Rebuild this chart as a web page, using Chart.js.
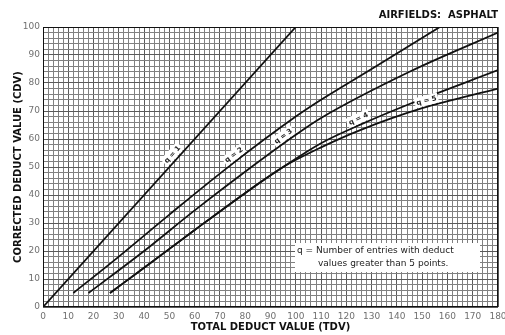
<!DOCTYPE html>
<html>
<head>
<meta charset="utf-8">
<script src="https://cdn.jsdelivr.net/npm/chart.js@4.4.1/dist/chart.umd.min.js"></script>
<style>
  html, body { margin: 0; padding: 0; background: #fff; }
</style>
</head>
<body>
<canvas id="cdv" width="505" height="335"></canvas>
<script>
// Curvas CDV, valores (TDV -> CDV)
const q1X = [0, 100];
const q1Y = [0, 100];
const q2X = [12, 30, 50, 74, 100, 110, 130, 157];
const q2Y = [5, 18, 33, 50.5, 68, 74, 85, 100];
const q3X = [18, 40, 60, 81, 100, 110, 145, 180];
const q3Y = [5, 20, 34.5, 49, 61.5, 67.5, 84, 98];
const q4X = [26.5, 40, 60, 82, 95, 110, 126, 145, 180];
const q4Y = [5, 14, 27.5, 42, 50, 58.5, 65.3, 72.5, 84.6];
const q5X = [26.5, 40, 60, 82, 95, 110, 125, 150, 180];
const q5Y = [5, 14, 27.5, 42, 50, 57, 63, 71, 78];

// Etiquetas de las curvas (posicion x en unidades de datos)
const curveNames = ['q = 1', 'q = 2', 'q = 3', 'q = 4', 'q = 5'];
const labelX = [53, 77, 96.5, 125.8, 152.3];

// Marcas de los ejes
const xTicks = [0, 10, 20, 30, 40, 50, 60, 70, 80, 90, 100, 110, 120, 130, 140, 150, 160, 170, 180];
const yTicks = [0, 10, 20, 30, 40, 50, 60, 70, 80, 90, 100];

const notaLineas = ['q = Number of entries with deduct', 'values greater than 5 points.'];

function puntos(xs, ys) {
    return xs.map((v, i) => ({ x: v, y: ys[i] }));
}

function serie(xs, ys) {
    return {
        data: puntos(xs, ys),
        borderColor: '#111',
        borderWidth: 1.8,
        pointRadius: 0,
        cubicInterpolationMode: 'monotone',
        fill: false
    };
}

// Segmento de la curva que contiene xv
function segmento(data, xv) {
    let i = 0;
    while (i < data.length - 2 && data[i + 1].x < xv) i++;
    return [data[i], data[i + 1]];
}

const gridColor = ctx => (ctx.tick && ctx.tick.value % 10 === 0) ? '#5a5a5a' : '#808080';

const decoracion = {
    id: 'decoracion',
    afterDraw(chart) {
        const { ctx, chartArea: area, scales: { x, y } } = chart;
        ctx.save();

        // marco del area
        ctx.strokeStyle = '#111';
        ctx.lineWidth = 1;
        ctx.strokeRect(Math.round(area.left) + 0.5, Math.round(area.top) + 0.5,
            Math.round(area.right - area.left) - 1, Math.round(area.bottom - area.top) - 1);

        // etiquetas q = n, encima de cada curva
        curveNames.forEach((txt, i) => {
            const [a, b] = segmento(chart.data.datasets[i].data, labelX[i]);
            const ax = x.getPixelForValue(a.x), ay = y.getPixelForValue(a.y);
            const bx = x.getPixelForValue(b.x), by = y.getPixelForValue(b.y);
            const ang = Math.atan2(by - ay, bx - ax);
            const px = x.getPixelForValue(labelX[i]);
            const py = ay + (by - ay) * (px - ax) / (bx - ax);
            ctx.save();
            ctx.translate(px, py);
            ctx.rotate(ang);
            ctx.translate(0, -6.5);
            ctx.fillStyle = '#fff';
            ctx.fillRect(-12, -5, 24, 10);
            ctx.fillStyle = '#222';
            ctx.font = 'bold 7px "DejaVu Sans"';
            ctx.textAlign = 'center';
            ctx.textBaseline = 'middle';
            ctx.fillText(txt, 0, 0.5);
            ctx.restore();
        });

        // nota explicativa
        const nx = area.left + 252, ny = area.top + 216;
        ctx.fillStyle = '#fff';
        ctx.fillRect(nx, ny, 185, 29);
        ctx.fillStyle = '#222';
        ctx.font = '9px "DejaVu Sans"';
        ctx.textAlign = 'left';
        ctx.textBaseline = 'middle';
        ctx.fillText(notaLineas[0], nx + 2, ny + 8);
        ctx.fillText(notaLineas[1], nx + 23, ny + 21);

        // titulo superior
        ctx.fillStyle = '#111';
        ctx.font = 'bold 10px "DejaVu Sans"';
        ctx.textAlign = 'right';
        ctx.fillText('AIRFIELDS:  ASPHALT', area.right, 15);
        ctx.restore();
    }
};

new Chart(document.getElementById('cdv'), {
    type: 'line',
    data: {
        datasets: [
            serie(q1X, q1Y),
            serie(q2X, q2Y),
            serie(q3X, q3Y),
            serie(q4X, q4Y),
            serie(q5X, q5Y)
        ]
    },
    options: {
        responsive: false,
        devicePixelRatio: 1,
        animation: false,
        layout: { padding: { top: 27, right: 7, left: 0, bottom: 0 } },
        plugins: {
            legend: { display: false },
            tooltip: { enabled: false }
        },
        scales: {
            x: {
                type: 'linear',
                min: 0,
                max: 180,
                ticks: {
                    stepSize: 2,
                    autoSkip: false,
                    maxRotation: 0,
                    padding: 4,
                    color: '#707070',
                    font: { family: 'DejaVu Sans', size: 9 },
                    callback: v => xTicks.includes(v) ? String(v) : ''
                },
                grid: { color: gridColor, lineWidth: 1, drawTicks: false },
                border: { display: false },
                title: {
                    display: true,
                    text: 'TOTAL DEDUCT VALUE (TDV)',
                    color: '#111',
                    font: { family: 'DejaVu Sans', size: 10, weight: 'bold' },
                    padding: { top: 0, bottom: 2 }
                },
                afterFit(s) {
                    s.height = 28;
                    s.paddingLeft = 0;
                    s.paddingRight = 0;
                }
            },
            y: {
                type: 'linear',
                min: 0,
                max: 100,
                ticks: {
                    stepSize: 2,
                    autoSkip: false,
                    padding: 3,
                    color: '#707070',
                    font: { family: 'DejaVu Sans', size: 9 },
                    callback: v => yTicks.includes(v) ? String(v) : ''
                },
                grid: { color: gridColor, lineWidth: 1, drawTicks: false },
                border: { display: false },
                title: {
                    display: true,
                    text: 'CORRECTED DEDUCT VALUE (CDV)',
                    color: '#111',
                    font: { family: 'DejaVu Sans', size: 10, weight: 'bold' },
                    padding: { top: 12, bottom: 0 }
                },
                afterFit(s) {
                    s.width = 43;
                    s.paddingTop = 0;
                    s.paddingBottom = 0;
                }
            }
        }
    },
    plugins: [decoracion]
});
</script>
</body>
</html>
